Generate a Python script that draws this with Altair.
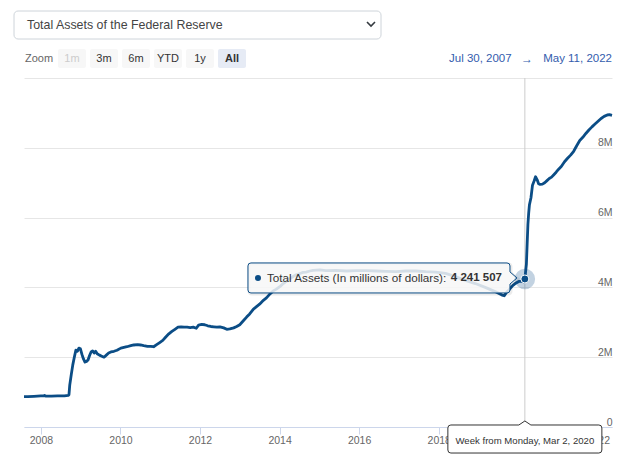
import altair as alt
import pandas as pd

# ---------------- data ----------------
dates = [
    "2007-07-30", "2007-09-03", "2007-10-29", "2007-12-31", "2008-01-28", "2008-02-04",
    "2008-02-18", "2008-04-07", "2008-06-02", "2008-08-04", "2008-09-08", "2008-09-15",
    "2008-09-22", "2008-10-06", "2008-10-20", "2008-11-03", "2008-11-17", "2008-12-01",
    "2008-12-15", "2008-12-29", "2009-01-12", "2009-01-26", "2009-02-09", "2009-02-23",
    "2009-03-09", "2009-03-23", "2009-04-06", "2009-04-20", "2009-05-04", "2009-05-18",
    "2009-06-01", "2009-06-22", "2009-07-13", "2009-08-03", "2009-08-24", "2009-09-14",
    "2009-10-05", "2009-11-02", "2009-11-30", "2010-01-04", "2010-02-01", "2010-03-01",
    "2010-04-05", "2010-05-03", "2010-06-07", "2010-07-05", "2010-08-02", "2010-09-06",
    "2010-10-04", "2010-11-01", "2010-11-29", "2010-12-27", "2011-01-24", "2011-02-21",
    "2011-03-21", "2011-04-18", "2011-05-16", "2011-06-13", "2011-07-11", "2011-08-08",
    "2011-09-05", "2011-10-03", "2011-10-31", "2011-11-28", "2011-12-19", "2012-01-16",
    "2012-02-13", "2012-03-12", "2012-04-09", "2012-05-07", "2012-06-04", "2012-07-02",
    "2012-08-06", "2012-09-03", "2012-10-01", "2012-11-05", "2012-12-03", "2012-12-31",
    "2013-02-04", "2013-03-04", "2013-04-01", "2013-05-06", "2013-06-03", "2013-07-01",
    "2013-08-05", "2013-09-02", "2013-10-07", "2013-11-04", "2013-12-02", "2014-01-06",
    "2014-02-03", "2014-03-03", "2014-04-07", "2014-05-05", "2014-06-02", "2014-07-07",
    "2014-08-04", "2014-09-01", "2014-10-06", "2014-11-03", "2015-01-05", "2015-03-02",
    "2015-06-01", "2015-09-07", "2015-12-07", "2016-03-07", "2016-06-06", "2016-09-05",
    "2016-12-05", "2017-03-06", "2017-06-05", "2017-09-04", "2017-12-04", "2018-03-05",
    "2018-06-04", "2018-09-03", "2018-12-03", "2019-03-04", "2019-06-03", "2019-08-05",
    "2019-08-26", "2019-09-16", "2019-10-14", "2019-11-11", "2019-12-09", "2020-01-06",
    "2020-02-03", "2020-02-24", "2020-03-02", "2020-03-16", "2020-03-23", "2020-03-30",
    "2020-04-06", "2020-04-13", "2020-04-27", "2020-05-11", "2020-05-25", "2020-06-08",
    "2020-06-22", "2020-07-06", "2020-07-20", "2020-08-10", "2020-08-31", "2020-09-21",
    "2020-10-12", "2020-11-02", "2020-11-23", "2020-12-14", "2021-01-04", "2021-02-01",
    "2021-03-01", "2021-03-29", "2021-04-26", "2021-05-24", "2021-06-21", "2021-07-19",
    "2021-08-16", "2021-09-13", "2021-10-11", "2021-11-08", "2021-12-06", "2022-01-03",
    "2022-01-31", "2022-02-28", "2022-03-28", "2022-04-18", "2022-05-11",
]
values = [
    869000, 872000, 880000, 891000, 889000, 905000,
    882000, 885000, 890000, 893000, 905000, 926000,
    1200000, 1500000, 1780000, 2000000, 2200000, 2170000,
    2260000, 2240000, 2080000, 1950000, 1860000, 1880000,
    1920000, 2050000, 2150000, 2180000, 2120000, 2170000,
    2100000, 2060000, 2030000, 2000000, 2060000, 2120000,
    2150000, 2170000, 2200000, 2260000, 2280000, 2300000,
    2330000, 2350000, 2360000, 2350000, 2330000, 2310000,
    2310000, 2300000, 2360000, 2420000, 2480000, 2580000,
    2670000, 2740000, 2800000, 2860000, 2870000, 2860000,
    2860000, 2850000, 2860000, 2830000, 2920000, 2940000,
    2930000, 2900000, 2880000, 2870000, 2860000, 2870000,
    2840000, 2800000, 2810000, 2840000, 2880000, 2930000,
    3050000, 3150000, 3240000, 3380000, 3450000, 3520000,
    3630000, 3700000, 3820000, 3900000, 3950000, 4030000,
    4110000, 4170000, 4250000, 4310000, 4360000, 4400000,
    4430000, 4440000, 4470000, 4490000, 4500000, 4480000,
    4490000, 4470000, 4480000, 4480000, 4470000, 4460000,
    4450000, 4470000, 4470000, 4450000, 4440000, 4400000,
    4310000, 4200000, 4110000, 4000000, 3880000, 3780000,
    3760000, 3860000, 3950000, 4050000, 4120000, 4170000,
    4170000, 4160000, 4241507, 4670000, 5250000, 5810000,
    6130000, 6370000, 6570000, 6930000, 7040000, 7170000,
    7090000, 6970000, 6950000, 6960000, 7000000, 7060000,
    7120000, 7160000, 7230000, 7300000, 7380000, 7470000,
    7600000, 7700000, 7790000, 7900000, 8060000, 8210000,
    8300000, 8410000, 8510000, 8600000, 8680000, 8760000,
    8840000, 8900000, 8940000, 8950000, 8930000,
]

chart_title = "Total Assets of the Federal Reserve"
series_name = "Total Assets (In millions of dollars)"
zoom_label = "Zoom"
buttons = ["1m", "3m", "6m", "YTD", "1y", "All"]
disabled_buttons = ["1m"]
selected_button = "All"
y_tick_values = [0, 2000000, 4000000, 6000000, 8000000, 10000000]
x_tick_years = [2008, 2010, 2012, 2014, 2016, 2018, 2020, 2022]
hover_date = "2020-03-02"

# ---------------- styling ----------------
W, H = 588, 349
BLUE = "#0b4d86"
FONT = "Liberation Sans"
TFONT = "Liberation Sans"

df = pd.DataFrame({"date": dates, "value": values})
hover = df[df["date"] == hover_date].reset_index(drop=True)


def ms(s):
    return int(pd.Timestamp(s).value // 10**6)


def fmt_day(s):
    t = pd.Timestamp(s)
    return f"{t:%b} {t.day}, {t.year}"


hover_ts = pd.Timestamp(hover_date)
hover_header = f"Week from {hover_ts:%A}, {hover_ts:%b} {hover_ts.day}, {hover_ts.year}"
hover_value = f"{int(hover['value'][0]):,}".replace(",", " ")

x_enc = alt.X(
    "date:T",
    title=None,
    scale=alt.Scale(type="utc", domain=[ms(dates[0]), ms(dates[-1])]),
    axis=alt.Axis(
        values=[ms(f"{y}-01-01") for y in x_tick_years],
        format="%Y",
        grid=False,
        domainColor="#ccd6eb",
        tickColor="#ccd6eb",
        tickSize=7,
        labelPadding=1,
        labelColor="#666666",
        labelFont=FONT,
        labelFontSize=10.5,
        labelFlush=False,
        labelOverlap=False,
    ),
)
y_enc = alt.Y(
    "value:Q",
    title=None,
    scale=alt.Scale(domain=[0, 10000000], nice=False),
    axis=alt.Axis(
        orient="right",
        values=y_tick_values,
        grid=True,
        gridColor="#e6e6e6",
        domain=False,
        ticks=False,
        tickSize=0,
        labelAlign="right",
        labelBaseline="alphabetic",
        labelPadding=0,
        labelOffset=-2,
        labelExpr="datum.value == 0 ? '0' : (datum.value >= 10000000 ? '' : (datum.value / 1000000) + 'M')",
        labelColor="#666666",
        labelFont=FONT,
        labelFontSize=10.5,
    ),
)

# callout shapes (unit square paths)
top_path = ("M-0.978,-0.1115L0.926,-0.1115Q0.948,-0.1115,0.948,-0.0895L0.948,-0.045L1,0"
            "L0.948,0.045L0.948,0.0895Q0.948,0.1115,0.926,0.1115L-0.978,0.1115"
            "Q-1,0.1115,-1,0.0895L-1,-0.0895Q-1,-0.1115,-0.978,-0.1115Z")
bottom_path = ("M-0.961,-0.156L-0.078,-0.156L0,-0.208L0.078,-0.156L0.961,-0.156"
               "Q1,-0.156,1,-0.117L1,0.169Q1,0.208,0.961,0.208L-0.961,0.208"
               "Q-1,0.208,-1,0.169L-1,-0.117Q-1,-0.156,-0.961,-0.156Z")

crosshair = alt.Chart(hover).mark_rule(color="#cccccc", strokeWidth=1).encode(
    x=x_enc, y=alt.value(0), y2=alt.value(H)
)
line = alt.Chart(df).mark_line(color=BLUE, strokeWidth=2.8, strokeJoin="round").encode(
    x=x_enc, y=y_enc
)

hv = alt.Chart(hover)
tip_shadow = hv.mark_point(
    shape=top_path, size=72361, filled=False, stroke="#000000", strokeOpacity=0.08,
    strokeWidth=3, opacity=1, xOffset=-141.4, yOffset=0,
).encode(x=x_enc, y=y_enc)
tip_box = hv.mark_point(
    shape=top_path, size=72361, filled=True, fill="#f7f7f7", fillOpacity=0.85,
    stroke=BLUE, strokeWidth=1, opacity=1, xOffset=-142.4, yOffset=-1,
).encode(x=x_enc, y=y_enc)
tip_dot = hv.mark_point(
    shape="circle", size=36, filled=True, color=BLUE, opacity=1, xOffset=-266.9, yOffset=-1,
).encode(x=x_enc, y=y_enc)
tip_label = hv.mark_text(
    align="left", baseline="middle", font=TFONT, fontSize=11.7, color="#333333",
    xOffset=-257.9, yOffset=-1, text=series_name + ":",
).encode(x=x_enc, y=y_enc)
tip_value = hv.mark_text(
    align="right", baseline="middle", font=TFONT, fontSize=11.5, fontWeight="bold",
    color="#333333", xOffset=-22.9, yOffset=-1, text=hover_value,
).encode(x=x_enc, y=y_enc)
halo = hv.mark_point(shape="circle", size=420, filled=True, color=BLUE, opacity=0.25).encode(
    x=x_enc, y=y_enc
)
marker = hv.mark_point(
    shape="circle", size=64, filled=True, fill=BLUE, stroke="#ffffff", strokeWidth=1, opacity=1
).encode(x=x_enc, y=y_enc)
xbox = hv.mark_point(
    shape=bottom_path, size=23716, filled=True, fill="#ffffff", stroke="#333333",
    strokeWidth=1, opacity=1,
).encode(x=x_enc, y=alt.value(359))
xtext = hv.mark_text(
    align="center", baseline="middle", font=TFONT, fontSize=9.6, color="#333333", text=hover_header,
).encode(x=x_enc, y=alt.value(363))

# ---------------- UI elements (dropdown, zoom buttons, date range) ----------------
ui = alt.Chart(pd.DataFrame({"k": [0]}))
ui_layers = [
    ui.mark_rect(cornerRadius=4, fill="#ffffff", stroke="#ced4da", strokeWidth=1).encode(
        x=alt.value(-10), x2=alt.value(357), y=alt.value(-67), y2=alt.value(-39)
    ),
    ui.mark_text(align="left", baseline="middle", font=FONT, fontSize=12.4, color="#444444",
                 text=chart_title).encode(x=alt.value(3), y=alt.value(-53)),
    ui.mark_point(shape="M-1,-0.5L0,0.5L1,-0.5", size=64, filled=False, stroke="#343a40",
                  strokeWidth=1.6, opacity=1).encode(x=alt.value(347), y=alt.value(-54)),
    ui.mark_text(align="left", baseline="middle", font=FONT, fontSize=11, color="#666666",
                 text=zoom_label).encode(x=alt.value(1), y=alt.value(-19)),
]
for i, lab in enumerate(buttons):
    c = 48 + 32 * i
    is_sel = lab == selected_button
    is_dis = lab in disabled_buttons
    ui_layers.append(
        ui.mark_rect(cornerRadius=2, fill="#e6ebf5" if is_sel else "#f7f7f7").encode(
            x=alt.value(c - 14), x2=alt.value(c + 14), y=alt.value(-29), y2=alt.value(-10)
        )
    )
    ui_layers.append(
        ui.mark_text(align="center", baseline="middle", font=FONT, fontSize=11,
                     fontWeight="bold" if is_sel else "normal",
                     color="#cccccc" if is_dis else "#333333", text=lab).encode(
            x=alt.value(c), y=alt.value(-19)
        )
    )
ui_layers += [
    ui.mark_text(align="left", baseline="middle", font=FONT, fontSize=11.5, color="#335cad",
                 text=fmt_day(dates[0])).encode(x=alt.value(425), y=alt.value(-19)),
    ui.mark_text(align="center", baseline="middle", font=FONT, fontSize=12, color="#335cad",
                 text="\u2192").encode(x=alt.value(503), y=alt.value(-19)),
    ui.mark_text(align="right", baseline="middle", font=FONT, fontSize=11.5, color="#335cad",
                 text=fmt_day(dates[-1])).encode(x=alt.value(588), y=alt.value(-19)),
]

chart = alt.layer(
    crosshair, line, tip_shadow, tip_box, tip_dot, tip_label, tip_value, halo, marker,
    xbox, xtext, *ui_layers,
).properties(
    width=W, height=H,
    autosize=alt.AutoSizeParams(type="none"),
    padding={"left": 16, "top": 70, "right": 10, "bottom": 30},
    background="#ffffff",
).configure_view(strokeWidth=0)

chart.save("out.html", embed_options={"renderer": "svg", "actions": False})
